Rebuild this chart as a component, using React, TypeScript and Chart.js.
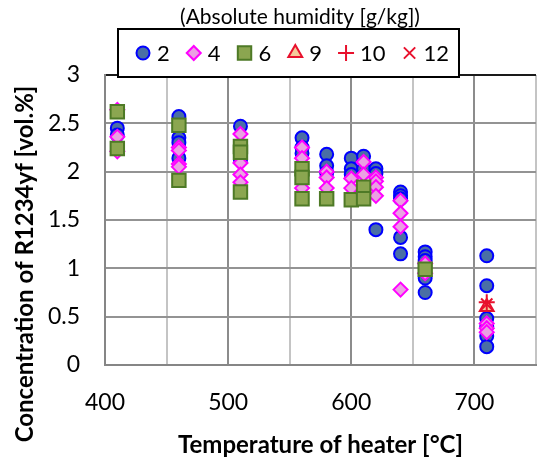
import React, { useEffect, useRef } from 'react';
import { Chart, registerables } from 'chart.js';
import { drawPoint } from 'chart.js/helpers';

Chart.register(...registerables);

// ---- data ----
const seriesLabels = ['2', '4', '6', '9', '10', '12'];
const legendTitle = '(Absolute humidity [g/kg])';
const xTitle = 'Temperature of heater [°C]';
const yTitle = 'Concentration of R1234yf [vol.%]';
const xTickLabels = [400, 500, 600, 700];

const temps2 = [410, 410, 460, 460, 460, 460, 510, 510, 510, 560, 560, 560, 580, 580, 580, 600, 600, 600, 610, 610, 620, 620, 620, 640, 640, 640, 640, 640, 660, 660, 660, 660, 660, 710, 710, 710, 710, 710, 710];
const conc2 = [2.45, 2.38, 2.57, 2.35, 2.30, 2.14, 2.47, 2.22, 2.12, 2.35, 2.25, 2.19, 2.18, 2.06, 1.99, 2.14, 2.03, 1.97, 2.16, 2.03, 2.03, 1.98, 1.40, 1.79, 1.75, 1.72, 1.32, 1.15, 1.17, 1.12, 1.08, 0.90, 0.75, 1.13, 0.82, 0.48, 0.40, 0.30, 0.19];

const temps4 = [410, 410, 410, 460, 460, 460, 460, 510, 510, 510, 510, 560, 560, 560, 580, 580, 580, 600, 600, 610, 610, 620, 620, 620, 620, 640, 640, 640, 640, 660, 660, 710, 710, 710];
const conc4 = [2.64, 2.36, 2.21, 2.25, 2.22, 2.08, 2.05, 2.39, 2.09, 1.97, 1.89, 2.25, 2.14, 1.83, 2.00, 1.94, 1.83, 1.93, 1.83, 2.10, 1.97, 1.94, 1.90, 1.84, 1.75, 1.70, 1.57, 1.43, 0.78, 1.05, 0.95, 0.43, 0.38, 0.34];

const temps6 = [410, 410, 460, 460, 510, 510, 510, 560, 560, 560, 580, 600, 610, 610, 660];
const conc6 = [2.62, 2.24, 2.48, 1.91, 2.26, 2.20, 1.79, 2.03, 1.94, 1.72, 1.72, 1.71, 1.84, 1.72, 0.99];

const temps9 = [710];
const conc9 = [0.60];
const temps10 = [710];
const conc10 = [0.65];
const temps12 = [710];
const conc12 = [0.63];

const toPoints = (t: number[], c: number[]) => t.map((x, i) => ({ x, y: c[i] }));

const FONT = 'Lato';

const decorPlugin = {
  id: 'decor',
  afterDraw(chart: any) {
    const ctx: CanvasRenderingContext2D = chart.ctx;
    ctx.save();
    // legend title
    ctx.fillStyle = '#000';
    ctx.textAlign = 'center';
    ctx.textBaseline = 'middle';
    ctx.font = `21px ${FONT}`;
    ctx.fillText(legendTitle, 300, 17);

    // legend box
    ctx.fillStyle = '#fff';
    ctx.fillRect(118, 29, 341, 48);
    ctx.strokeStyle = '#000';
    ctx.lineWidth = 2;
    ctx.strokeRect(118, 29, 341, 48);

    // legend items
    ctx.font = `22px ${FONT}`;
    ctx.textAlign = 'left';
    let x = 143;
    const y = 53;
    chart.data.datasets.forEach((ds: any) => {
      ctx.save();
      ctx.fillStyle = ds.backgroundColor;
      ctx.strokeStyle = ds.borderColor;
      ctx.lineWidth = ds.borderWidth;
      drawPoint(ctx, { pointStyle: ds.pointStyle, radius: ds.pointRadius, rotation: 0, borderWidth: ds.borderWidth }, x, y);
      ctx.restore();
      ctx.fillStyle = '#000';
      const tx = x + 14;
      ctx.fillText(ds.label, tx, y + 1);
      x = tx + ctx.measureText(ds.label).width + 24;
    });

    // y-axis title
    ctx.translate(25, 264);
    ctx.rotate(-Math.PI / 2);
    ctx.textAlign = 'center';
    ctx.textBaseline = 'middle';
    ctx.font = `bold 24px ${FONT}`;
    ctx.fillStyle = '#000';
    ctx.fillText(yTitle, 0, 0);
    ctx.restore();
  },
};

export default function App() {
  const ref = useRef<HTMLCanvasElement>(null);

  useEffect(() => {
    Chart.defaults.font.family = FONT;
    const chart = new Chart(ref.current!, {
      type: 'scatter',
      data: {
        datasets: [
          {
            label: seriesLabels[0], data: toPoints(temps2, conc2), order: 6,
            pointStyle: 'circle', pointRadius: 6.5, borderWidth: 2,
            backgroundColor: '#4A6FA5', borderColor: '#0000FF',
          },
          {
            label: seriesLabels[1], data: toPoints(temps4, conc4), order: 5,
            pointStyle: 'rectRot', pointRadius: 7, borderWidth: 2,
            backgroundColor: '#EBA0E3', borderColor: '#FF00FF',
          },
          {
            label: seriesLabels[2], data: toPoints(temps6, conc6), order: 4,
            pointStyle: 'rect', pointRadius: 9.5, borderWidth: 2,
            backgroundColor: '#8BA650', borderColor: '#4E7A26',
          },
          {
            label: seriesLabels[3], data: toPoints(temps9, conc9), order: 3,
            pointStyle: 'triangle', pointRadius: 8, borderWidth: 2,
            backgroundColor: '#F5CB9B', borderColor: '#E8112D',
          },
          {
            label: seriesLabels[4], data: toPoints(temps10, conc10), order: 2,
            pointStyle: 'cross', pointRadius: 8, borderWidth: 2,
            backgroundColor: '#E8112D', borderColor: '#E8112D',
          },
          {
            label: seriesLabels[5], data: toPoints(temps12, conc12), order: 1,
            pointStyle: 'crossRot', pointRadius: 8, borderWidth: 2,
            backgroundColor: '#E8112D', borderColor: '#E8112D',
          },
        ],
      },
      options: {
        animation: false,
        responsive: false,
        devicePixelRatio: 1,
        layout: { padding: { top: 75, right: 9, left: 0, bottom: 0 } },
        plugins: {
          legend: { display: false },
          title: { display: false },
          tooltip: { enabled: false },
        },
        scales: {
          x: {
            type: 'linear',
            min: 400,
            max: 750,
            afterFit: (s: any) => { s.height = 96; },
            ticks: {
              stepSize: 50,
              padding: 24,
              color: '#000',
              font: { family: FONT, size: 23 },
              maxRotation: 0,
              autoSkip: false,
              callback: (v: any) => (xTickLabels.includes(Number(v)) ? String(v) : ''),
            },
            grid: {
              drawTicks: false,
              lineWidth: 2,
              color: (c: any) => (c.tick && c.tick.value % 100 === 0 ? '#8C8C8C' : '#C4C4C4'),
            },
            border: { display: true, color: '#868686', width: 2 },
            title: {
              display: true,
              text: xTitle,
              color: '#000',
              font: { family: FONT, size: 24, weight: 'bold' },
              padding: { top: 0, bottom: 1 },
            },
          },
          y: {
            type: 'linear',
            min: 0,
            max: 3,
            afterFit: (s: any) => { s.width = 105; },
            ticks: {
              stepSize: 0.5,
              padding: 25,
              color: '#000',
              font: { family: FONT, size: 23 },
              callback: (v: any) => String(Number(v)),
            },
            grid: {
              drawTicks: false,
              lineWidth: 2,
              color: (c: any) => (c.tick && c.tick.value === 3 ? '#1A1A1A' : '#939393'),
            },
            border: { display: true, color: '#868686', width: 2 },
          },
        },
      },
      plugins: [decorPlugin],
    } as any);
    return () => chart.destroy();
  }, []);

  return (
    <div style={{ position: 'fixed', left: 0, top: 0, width: 541, height: 461, overflow: 'hidden', background: '#fff' }}>
      <canvas ref={ref} width={560} height={461} style={{ display: 'block', width: 560, height: 461 }} />
    </div>
  );
}
